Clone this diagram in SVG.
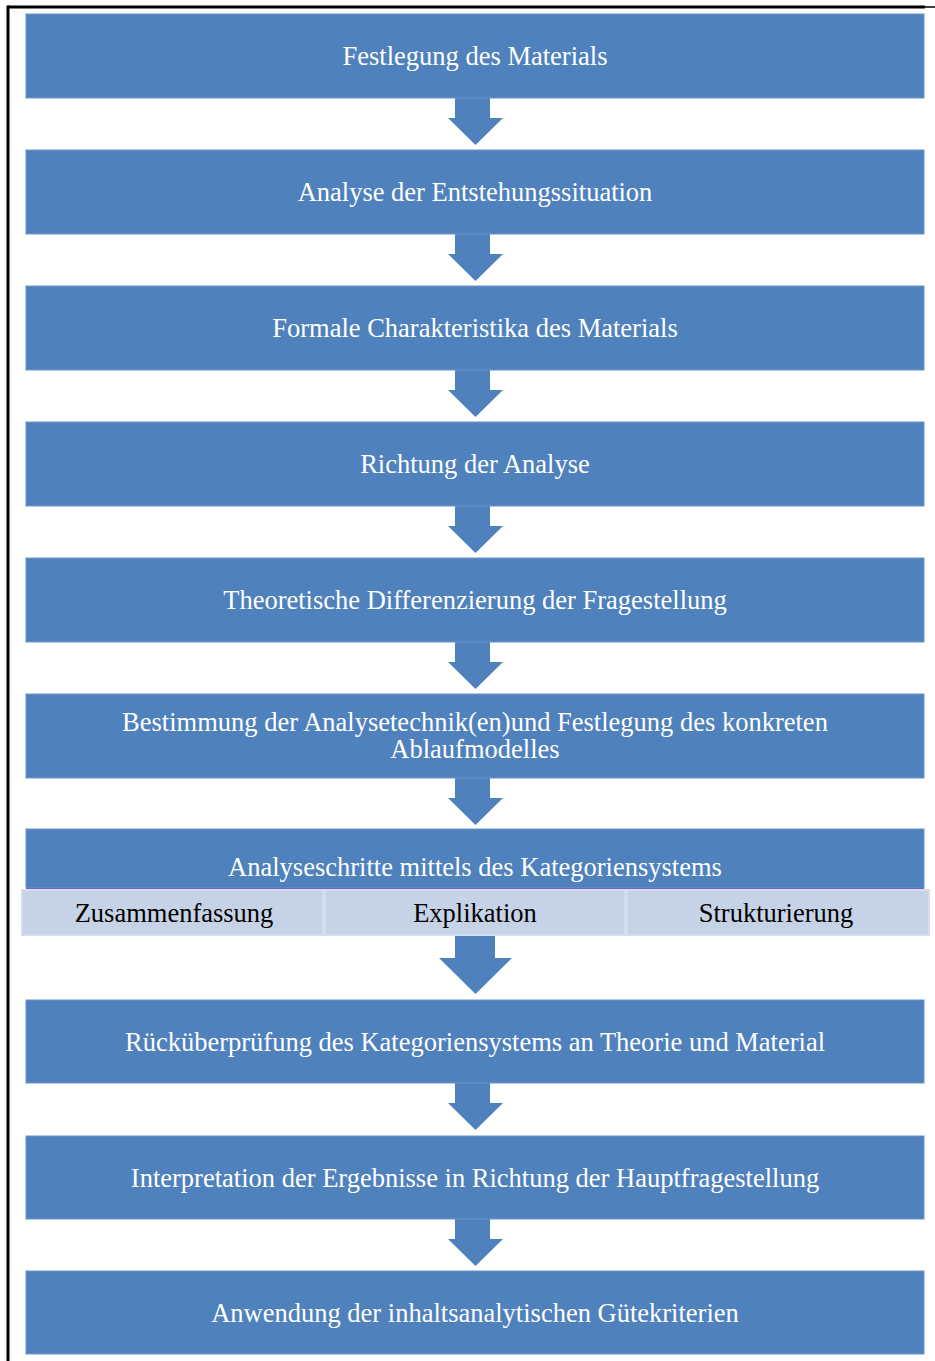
<svg xmlns="http://www.w3.org/2000/svg" width="935" height="1361" viewBox="0 0 935 1361">
  <style>
    .step { fill: #4f81bd; stroke: #6a93c6; stroke-width: 1; }
    .label { font-family: "Liberation Serif", "Times New Roman", serif; font-size: 26.5px; fill: #ffffff; text-anchor: middle; }
    .sub { fill: #c6d3e6; stroke: #d4ddec; stroke-width: 2; }
    .sublabel { font-family: "Liberation Serif", "Times New Roman", serif; font-size: 26.5px; fill: #000000; text-anchor: middle; }
    .arrow { fill: #4f81bd; }
  </style>

  <!-- page frame (top and left edges) -->
  <g id="frame">
    <line x1="8" y1="7" x2="925" y2="7" stroke="#000" stroke-width="3"/>
    <line x1="925" y1="7" x2="935" y2="7" stroke="#000" stroke-width="1.5"/>
    <line x1="8" y1="5.5" x2="8" y2="1361" stroke="#000" stroke-width="3"/>
  </g>

  <!-- connectors -->
  <g id="connectors">
    <path class="arrow" d="M455,98 V118 H448 L475.5,145 L503,118 H490 V98 Z"/>
    <path class="arrow" d="M455,234 V254 H448 L475.5,281 L503,254 H490 V234 Z"/>
    <path class="arrow" d="M455,370 V390 H448 L475.5,417 L503,390 H490 V370 Z"/>
    <path class="arrow" d="M455,506 V526 H448 L475.5,553 L503,526 H490 V506 Z"/>
    <path class="arrow" d="M455,642 V662 H448 L475.5,689 L503,662 H490 V642 Z"/>
    <path class="arrow" d="M455,778 V798 H448 L475.5,825 L503,798 H490 V778 Z"/>
    <path class="arrow" d="M455,935 V958 H439 L475.5,994 L512,958 H495 V935 Z"/>
    <path class="arrow" d="M455,1083 V1103 H448 L475.5,1130 L503,1103 H490 V1083 Z"/>
    <path class="arrow" d="M455,1219 V1239 H448 L475.5,1266 L503,1239 H490 V1219 Z"/>
  </g>

  <g id="n1">
    <rect class="step" x="26" y="14" width="898" height="84"/>
    <text class="label" x="475" y="64.5">Festlegung des Materials</text>
  </g>
  <g id="n2">
    <rect class="step" x="26" y="150" width="898" height="84"/>
    <text class="label" x="475" y="200.5">Analyse der Entstehungssituation</text>
  </g>
  <g id="n3">
    <rect class="step" x="26" y="286" width="898" height="84"/>
    <text class="label" x="475" y="336.5">Formale Charakteristika des Materials</text>
  </g>
  <g id="n4">
    <rect class="step" x="26" y="422" width="898" height="84"/>
    <text class="label" x="475" y="472.5">Richtung der Analyse</text>
  </g>
  <g id="n5">
    <rect class="step" x="26" y="558" width="898" height="84"/>
    <text class="label" x="475" y="608.5">Theoretische Differenzierung der Fragestellung</text>
  </g>
  <g id="n6">
    <rect class="step" x="26" y="694" width="898" height="84"/>
    <text class="label" x="475" y="730.5">Bestimmung der Analysetechnik(en)und Festlegung des konkreten</text>
    <text class="label" x="475" y="757.5">Ablaufmodelles</text>
  </g>
  <g id="n7">
    <rect class="step" x="26" y="829" width="898" height="59"/>
    <text class="label" x="475" y="875.5">Analyseschritte mittels des Kategoriensystems</text>
    <line x1="26" y1="888.5" x2="924" y2="888.5" stroke="#7b5fcf" stroke-width="1"/>
  </g>
  <g id="n7a">
    <rect class="sub" x="22" y="890" width="301" height="45"/>
    <text class="sublabel" x="174" y="921.5">Zusammenfassung</text>
  </g>
  <g id="n7b">
    <rect class="sub" x="325" y="890" width="300" height="45"/>
    <text class="sublabel" x="475" y="921.5">Explikation</text>
  </g>
  <g id="n7c">
    <rect class="sub" x="627" y="890" width="302" height="45"/>
    <text class="sublabel" x="776" y="921.5">Strukturierung</text>
  </g>
  <g id="n8">
    <rect class="step" x="26" y="1000" width="898" height="83"/>
    <text class="label" x="475" y="1050.5">Rücküberprüfung des Kategoriensystems an Theorie und Material</text>
  </g>
  <g id="n9">
    <rect class="step" x="26" y="1136" width="898" height="83"/>
    <text class="label" x="475" y="1186.5">Interpretation der Ergebnisse in Richtung der Hauptfragestellung</text>
  </g>
  <g id="n10">
    <rect class="step" x="26" y="1271" width="898" height="83"/>
    <text class="label" x="475" y="1321.5">Anwendung der inhaltsanalytischen Gütekriterien</text>
  </g>
</svg>
